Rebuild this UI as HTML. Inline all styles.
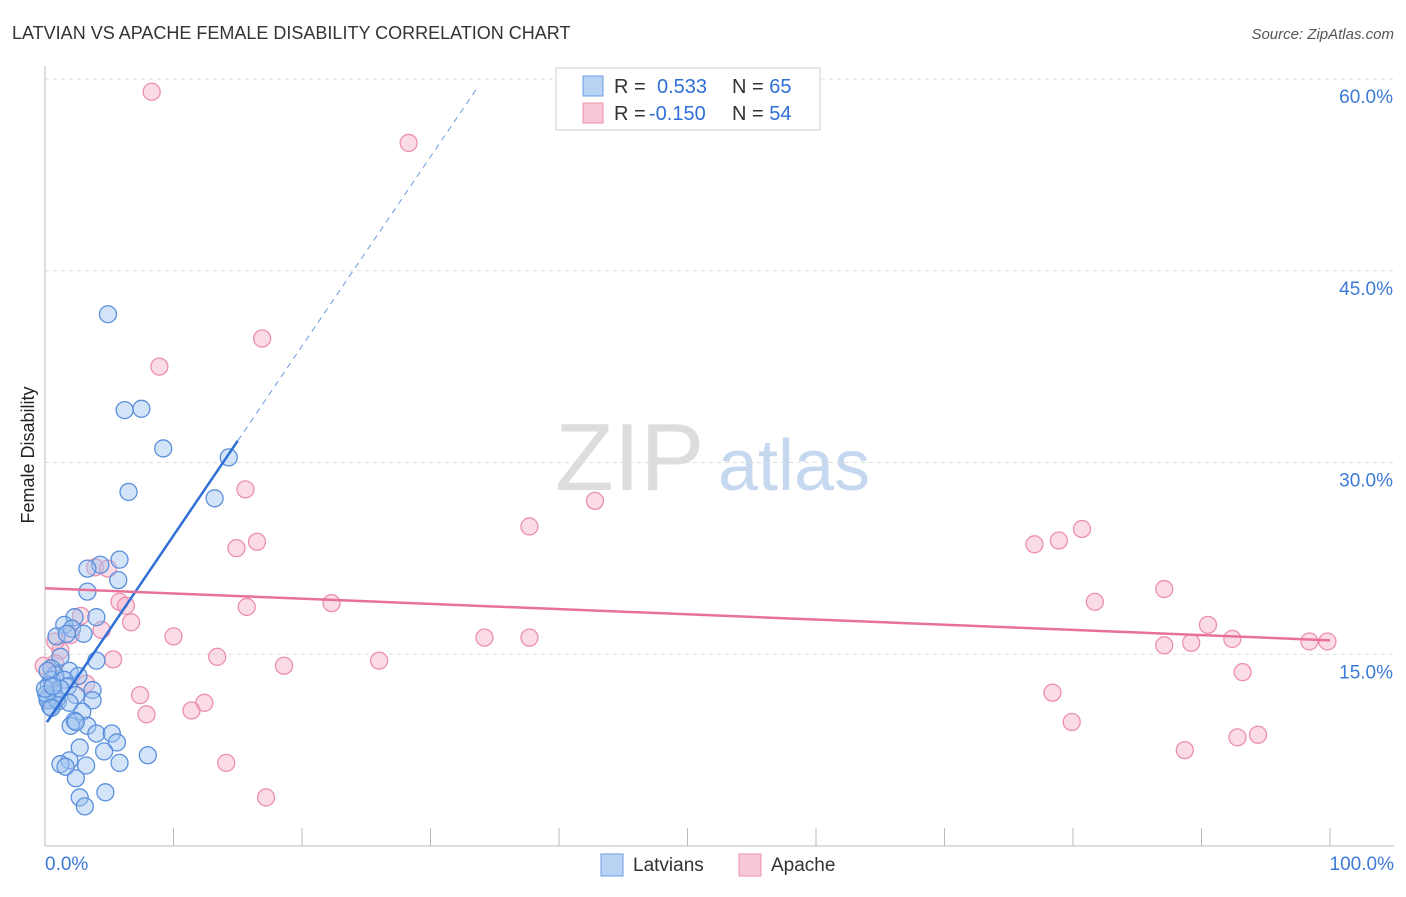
<!DOCTYPE html>
<html><head><meta charset="utf-8"><style>
body{margin:0;background:#fff;font-family:"Liberation Sans",sans-serif}
svg text{font-family:"Liberation Sans",sans-serif}
</style></head><body>
<svg id="chart" width="1406" height="892" xmlns="http://www.w3.org/2000/svg">
<text x="12" y="39" font-size="18" fill="#333">LATVIAN VS APACHE FEMALE DISABILITY CORRELATION CHART</text>
<text x="1394" y="39" font-size="15" fill="#555" font-style="italic" text-anchor="end">Source: ZipAtlas.com</text>
<g>
<text x="555" y="490" font-size="96" fill="#ddd" font-family="Liberation Serif">ZIP</text>
<text x="718" y="490" font-size="72" fill="#c6d8ef">atlas</text>
</g>
<g id="grid"></g>
<g id="axes"></g>
<text transform="translate(34,455) rotate(-90)" font-size="18" fill="#222" text-anchor="middle">Female Disability</text>
<g id="marks"></g>
<g>
<rect x="556" y="68" width="264" height="62" fill="#fff" stroke="#ccc"/>
<rect x="583" y="76" width="20" height="20" fill="#b9d3f5" stroke="#6b9be0"/>
<rect x="583" y="103" width="20" height="20" fill="#f9c8d7" stroke="#ec8fae"/>
<text x="614" y="93" font-size="20" fill="#333">R = <tspan fill="#2f6fd6" x="657">0.533</tspan><tspan fill="#333" x="732">N = </tspan><tspan fill="#2f6fd6">65</tspan></text>
<text x="614" y="120" font-size="20" fill="#333">R = <tspan fill="#2f6fd6" x="649">-0.150</tspan><tspan fill="#333" x="732">N = </tspan><tspan fill="#2f6fd6">54</tspan></text>
</g>
<g>
<rect x="601" y="854" width="22" height="22" fill="#b9d3f5" stroke="#6b9be0"/>
<text x="633" y="871" font-size="19" fill="#333">Latvians</text>
<rect x="739" y="854" width="22" height="22" fill="#f9c8d7" stroke="#ec8fae"/>
<text x="771" y="871" font-size="19" fill="#333">Apache</text>
</g>
</svg>
<script>
const yTicks=[15,30,45,60];
const yTickLabels=["15.0%","30.0%","45.0%","60.0%"];
const xTickLabels=["0.0%","100.0%"];
const latviansX=[4.9,6.2,7.5,9.2,14.3,6.5,13.2,5.8,4.3,3.3,5.7,3.3,2.3,4.0,1.5,2.1,0.9,3.0,1.7,4.0,1.2,0.5,1.9,0.8,2.6,0.5,1.5,0.3,1.8,3.7,0.7,2.4,3.7,0.2,1.0,0.4,0.2,2.9,2.3,2.0,3.3,2.4,4.0,5.2,5.6,2.7,4.6,8.0,5.8,1.9,1.2,1.6,3.2,2.4,4.7,2.7,3.1,0.9,1.2,0.1,0.5,1.9,0.0,0.2,0.6];
const latviansY=[41.6,34.1,34.2,31.1,30.4,27.7,27.2,22.4,22.0,21.7,20.8,19.9,17.9,17.9,17.3,17.0,16.4,16.6,16.6,14.5,14.8,13.9,13.7,13.4,13.3,13.0,13.0,12.6,12.5,12.2,11.9,11.8,11.4,11.6,11.3,10.9,11.4,10.5,9.8,9.4,9.4,9.7,8.8,8.8,8.1,7.7,7.4,7.1,6.5,6.7,6.4,6.2,6.3,5.3,4.2,3.8,3.1,11.5,12.3,11.9,10.8,11.2,12.3,13.7,12.5];
const apacheX=[8.3,28.3,16.9,8.9,15.6,42.8,37.7,80.7,78.9,77.0,16.5,14.9,3.9,4.9,87.1,81.7,5.8,22.3,6.3,15.7,2.8,6.7,4.4,90.5,2.0,34.2,37.7,10.0,92.4,98.4,99.8,87.1,89.2,13.4,26.0,5.3,1.2,18.6,0.8,93.2,78.4,7.4,12.4,11.4,7.9,79.9,88.7,92.8,94.4,14.1,17.2,3.2,0.8,-0.1];
const apacheY=[59.0,55.0,39.7,37.5,27.9,27.0,25.0,24.8,23.9,23.6,23.8,23.3,21.8,21.7,20.1,19.1,19.1,19.0,18.8,18.7,18.0,17.5,16.9,17.3,16.5,16.3,16.3,16.4,16.2,16.0,16.0,15.7,15.9,14.8,14.5,14.6,15.3,14.1,14.3,13.6,12.0,11.8,11.2,10.6,10.3,9.7,7.5,8.5,8.7,6.5,3.8,12.7,16.0,14.1];
const latvianTrend=[[0.15,9.69],[15.0,31.7],[33.7,59.4]];
const apacheTrend=[[0,20.16],[100,16.09]];
const X0=45,X1=1330,Y0=846,Y60=79;
const xs=v=>X0+(X1-X0)*v/100;
const ys=v=>Y0-(Y0-Y60)*v/60;
const NS="http://www.w3.org/2000/svg";
function mk(t,a,p){const e=document.createElementNS(NS,t);for(const k in a)e.setAttribute(k,a[k]);p.appendChild(e);return e;}
const grid=document.getElementById('grid'),axes=document.getElementById('axes'),marks=document.getElementById('marks');
yTicks.forEach((t,i)=>{
 const l=mk('line',{x1:X0,x2:1394,y1:ys(t),y2:ys(t),stroke:'#ddd','stroke-dasharray':'4,4'},grid);
 
 
 const tx=mk('text',{x:1393,y:ys(t)+24,'font-size':19,fill:'#3d7ad6','text-anchor':'end'},axes);
 tx.textContent=yTickLabels[i];
 
 
});
mk('line',{x1:X0,x2:X0,y1:66,y2:846,stroke:'#bbb'},axes);
mk('line',{x1:X0,x2:1394,y1:846,y2:846,stroke:'#bbb'},axes);
for(let i=0;i<=10;i++){mk('line',{x1:xs(i*10),x2:xs(i*10),y1:828,y2:846,stroke:'#bbb'},axes);}
[[0,'start',45],[100,'end',1394]].forEach((d,i)=>{
 const tx=mk('text',{x:d[2],y:870,'font-size':19,fill:'#3d7ad6','text-anchor':d[1]},axes);
 tx.textContent=xTickLabels[i];
 
 
});
const gA=mk('g',{},marks);


apacheX.forEach((x,i)=>{
 const c=mk('circle',{cx:xs(x),cy:ys(apacheY[i]),r:8.5,fill:'rgba(246,178,200,0.45)',stroke:'#ec8fae','stroke-width':1.3},gA);
 
 
});
const gL=mk('g',{},marks);


latviansX.forEach((x,i)=>{
 const c=mk('circle',{cx:xs(x),cy:ys(latviansY[i]),r:8.5,fill:'rgba(160,196,240,0.45)',stroke:'#5a8fdc','stroke-width':1.3},gL);
 
 
});
const t1=mk('line',{x1:xs(latvianTrend[0][0]),y1:ys(latvianTrend[0][1]),x2:xs(latvianTrend[1][0]),y2:ys(latvianTrend[1][1]),stroke:'#2f6fd6','stroke-width':2.5},marks);


const t2=mk('line',{x1:xs(latvianTrend[1][0]),y1:ys(latvianTrend[1][1]),x2:xs(latvianTrend[2][0]),y2:ys(latvianTrend[2][1]),stroke:'#6b9be0','stroke-width':1,'stroke-dasharray':'6,5'},marks);


const t3=mk('line',{x1:xs(apacheTrend[0][0]),y1:ys(apacheTrend[0][1]),x2:xs(apacheTrend[1][0]),y2:ys(apacheTrend[1][1]),stroke:'#e8719a','stroke-width':2.5},marks);


</script>
</body></html>
